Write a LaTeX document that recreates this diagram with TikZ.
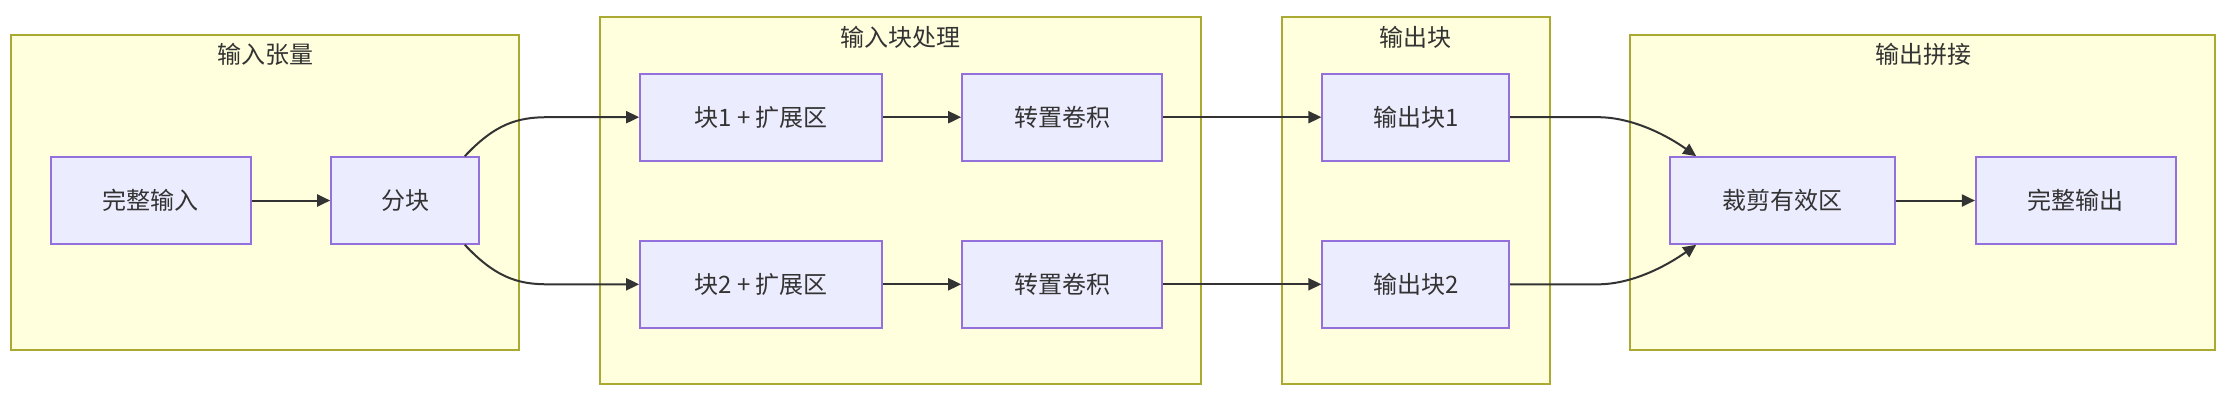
\documentclass[tikz,border=0pt]{standalone}
\usepackage{fontspec}
\setmainfont{Noto Sans CJK SC}
\usetikzlibrary{arrows.meta}
\definecolor{clfill}{HTML}{FFFFDE}
\definecolor{clline}{HTML}{AAAA33}
\definecolor{ndfill}{HTML}{ECECFF}
\definecolor{ndline}{HTML}{9370DB}
\definecolor{txt}{HTML}{333333}
\tikzset{
  cluster/.style={draw=clline, fill=clfill, line width=1.6pt, inner sep=0pt},
  box/.style={draw=ndline, fill=ndfill, line width=1.6pt, minimum height=87pt, inner sep=0pt, text=txt, font=\fontsize{24}{28}\selectfont},
  ttl/.style={text=txt, inner sep=0pt, font=\fontsize{24}{28}\selectfont},
  edge/.style={draw=txt, line width=2pt, -{Triangle[length=13pt,width=12pt]}}
}
\begin{document}
\begin{tikzpicture}[x=1pt,y=-1pt]
\useasboundingbox (0,0) rectangle (2235,402);
% clusters
\node[cluster, minimum width=508pt, minimum height=315pt] (c1) at (265,192.3) {};
\node[cluster, minimum width=601pt, minimum height=367pt] (c2) at (900.3,200.7) {};
\node[cluster, minimum width=268pt, minimum height=367pt] (c3) at (1415.8,200.7) {};
\node[cluster, minimum width=585pt, minimum height=315pt] (c4) at (1922.5,192.3) {};
\node[ttl] (t1) at (265,54) {输入张量};
\node[ttl] (t2) at (900.5,37) {输入块处理};
\node[ttl] (t3) at (1415.5,37) {输出块};
\node[ttl] (t4) at (1923,54) {输出拼接};
% nodes
\node[box, minimum width=200pt] (wz) at (150.8,200.5) {完整输入};
\node[box, minimum width=148pt] (fk) at (405,200.5) {分块};
\node[box, minimum width=242pt] (b1) at (761,117.2) {块1 + 扩展区};
\node[box, minimum width=242pt] (b2) at (761,284.3) {块2 + 扩展区};
\node[box, minimum width=200pt] (j1) at (1062,117.2) {转置卷积};
\node[box, minimum width=200pt] (j2) at (1062,284.3) {转置卷积};
\node[box, minimum width=187pt] (o1) at (1415.7,117.2) {输出块1};
\node[box, minimum width=187pt] (o2) at (1415.7,284.3) {输出块2};
\node[box, minimum width=225pt] (cj) at (1782.5,200.5) {裁剪有效区};
\node[box, minimum width=200pt] (wo) at (2075.7,200.5) {完整输出};
% helper coordinates
\coordinate (k1) at ([xshift=-92pt]b1.west);
\coordinate (k2) at ([xshift=-92pt]b2.west);
\coordinate (k3) at ([xshift=88pt]o1.east);
\coordinate (k4) at ([xshift=88pt]o2.east);
% edges
\draw[edge] (wz) -- (fk);
\draw[edge] ([xshift=-15pt]fk.north east) .. controls +(30,-32) and +(-30,0) .. (k1) -- (b1.west);
\draw[edge] ([xshift=-15pt]fk.south east) .. controls +(30,32) and +(-30,0) .. (k2) -- (b2.west);
\draw[edge] (b1) -- (j1);
\draw[edge] (b2) -- (j2);
\draw[edge] (j1) -- (o1);
\draw[edge] (j2) -- (o2);
\draw[edge] (o1.east) -- (k3) .. controls +(35,0) and +(-28,-20) .. ([xshift=27pt]cj.north west);
\draw[edge] (o2.east) -- (k4) .. controls +(35,0) and +(-28,20) .. ([xshift=27pt]cj.south west);
\draw[edge] (cj) -- (wo);
\end{tikzpicture}
\end{document}
